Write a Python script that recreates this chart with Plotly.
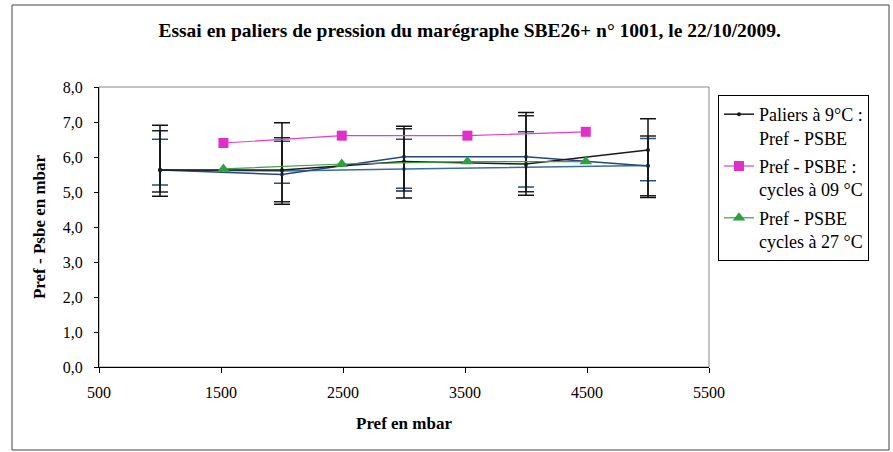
import plotly.graph_objects as go

# ---- data ----
paliers_x = [1000, 2000, 3000, 4000, 5000]
paliers_1 = [5.63, 5.63, 5.87, 5.80, 6.20]
paliers_1_hi = [6.91, 6.98, 6.88, 7.27, 7.09]
paliers_1_lo = [4.88, 4.65, 4.83, 4.91, 4.84]
paliers_2 = [5.63, 5.50, 6.01, 6.01, 5.74]
paliers_2_hi = [6.75, 6.55, 6.81, 7.18, 6.60]
paliers_2_lo = [5.00, 4.72, 5.03, 5.01, 4.89]
paliers_3 = [5.63, 5.60, 5.66, 5.72, 5.76]
paliers_3_hi = [6.51, 6.45, 6.51, 6.72, 6.53]
paliers_3_lo = [5.20, 5.25, 5.11, 5.14, 5.32]

cycles_x = [1520, 2490, 3520, 4490]
cycles_09 = [6.40, 6.61, 6.61, 6.72]
cycles_27 = [5.66, 5.80, 5.87, 5.87]

x_ticks = [500, 1500, 2500, 3500, 4500, 5500]
y_ticks = [0, 1, 2, 3, 4, 5, 6, 7, 8]

SERIF = "Liberation Serif"

fig = go.Figure()

def err(y, hi, lo):
    return ([h - v for h, v in zip(hi, y)], [v - l for v, l in zip(y, lo)])

for ys, hi, lo, col, ecol, show, name, grp in [
    (paliers_3, paliers_3_hi, paliers_3_lo, "#3b6e98", "#2a4f78", False, "p3", "g3"),
    (paliers_2, paliers_2_hi, paliers_2_lo, "#24487e", "#222222", False, "p2", "g2"),
    (paliers_1, paliers_1_hi, paliers_1_lo, "#1a1a1a", "#111111", True,
     "Paliers à 9°C :<br>Pref - PSBE", "g1"),
]:
    up, dn = err(ys, hi, lo)
    fig.add_trace(go.Scatter(
        x=paliers_x, y=ys, mode="lines+markers", name=name, showlegend=show,
        legendgroup=grp,
        line=dict(color=col, width=1.5),
        marker=dict(size=4, color=col),
        error_y=dict(type="data", symmetric=False, array=up, arrayminus=dn,
                     color=ecol, thickness=1.5, width=8),
    ))

fig.add_trace(go.Scatter(
    x=cycles_x, y=cycles_09, mode="lines+markers",
    name="Pref - PSBE :<br>cycles à 09 °C", legendgroup="g4",
    line=dict(color="#e040c8", width=1.2),
    marker=dict(symbol="square", size=10, color="#e030c8"),
))
fig.add_trace(go.Scatter(
    x=cycles_x, y=cycles_27, mode="lines+markers",
    name="Pref - PSBE<br>cycles à 27 °C", legendgroup="g5",
    line=dict(color="#3aa040", width=1.2),
    marker=dict(symbol="triangle-up", size=11, color="#2fa040"),
))

L, R, T, B = 99, 184, 87, 85
W, H = 893, 452
pw, ph = W - L - R, H - T - B

def px(xp):
    return (xp - L) / pw

def py(yp):
    return (H - B - yp) / ph

shapes = [
    dict(type="rect", xref="paper", yref="paper",
         x0=px(12), x1=px(889), y0=py(450), y1=py(5),
         line=dict(color="#444444", width=1), layer="below"),
    dict(type="rect", xref="paper", yref="paper", x0=0, x1=1, y0=0, y1=1,
         line=dict(color="#888888", width=1), layer="below"),
]

fig.update_layout(
    width=W, height=H,
    margin=dict(l=L, r=R, t=T, b=B),
    paper_bgcolor="white", plot_bgcolor="white",
    font=dict(family=SERIF, size=16, color="black"),
    title=dict(text="<b>Essai en paliers de pression du marégraphe SBE26+ n° 1001, le 22/10/2009.</b>",
               x=0.526, xanchor="center", y=1 - 30 / H, yanchor="middle",
               font=dict(family=SERIF, size=19.5, color="black")),
    xaxis=dict(range=[500, 5500], tickvals=x_ticks, ticktext=[str(v) for v in x_ticks],
               showgrid=False, zeroline=False, showline=True, linecolor="black", linewidth=1,
               ticks="outside", ticklen=5, tickcolor="black", ticklabelstandoff=6,
               tickfont=dict(family=SERIF, size=16),
               title=dict(text="<b>Pref en mbar</b>", standoff=16,
                          font=dict(family=SERIF, size=17))),
    yaxis=dict(range=[0, 8], tickvals=y_ticks, ticktext=[f"{v},0" for v in y_ticks],
               showgrid=False, zeroline=False, showline=True, linecolor="black", linewidth=1,
               ticks="outside", ticklen=4, tickcolor="black", ticklabelstandoff=8,
               tickfont=dict(family=SERIF, size=16),
               title=dict(text="<b>Pref - Psbe en mbar</b>", standoff=12,
                          font=dict(family=SERIF, size=17))),
    legend=dict(x=px(718), y=py(95), xanchor="left", yanchor="top",
                bordercolor="black", borderwidth=1, bgcolor="white",
                font=dict(family=SERIF, size=18), valign="top",
                tracegroupgap=2, traceorder="grouped", itemwidth=30),
    shapes=shapes,
    showlegend=True,
)

fig.write_html("out.html")
